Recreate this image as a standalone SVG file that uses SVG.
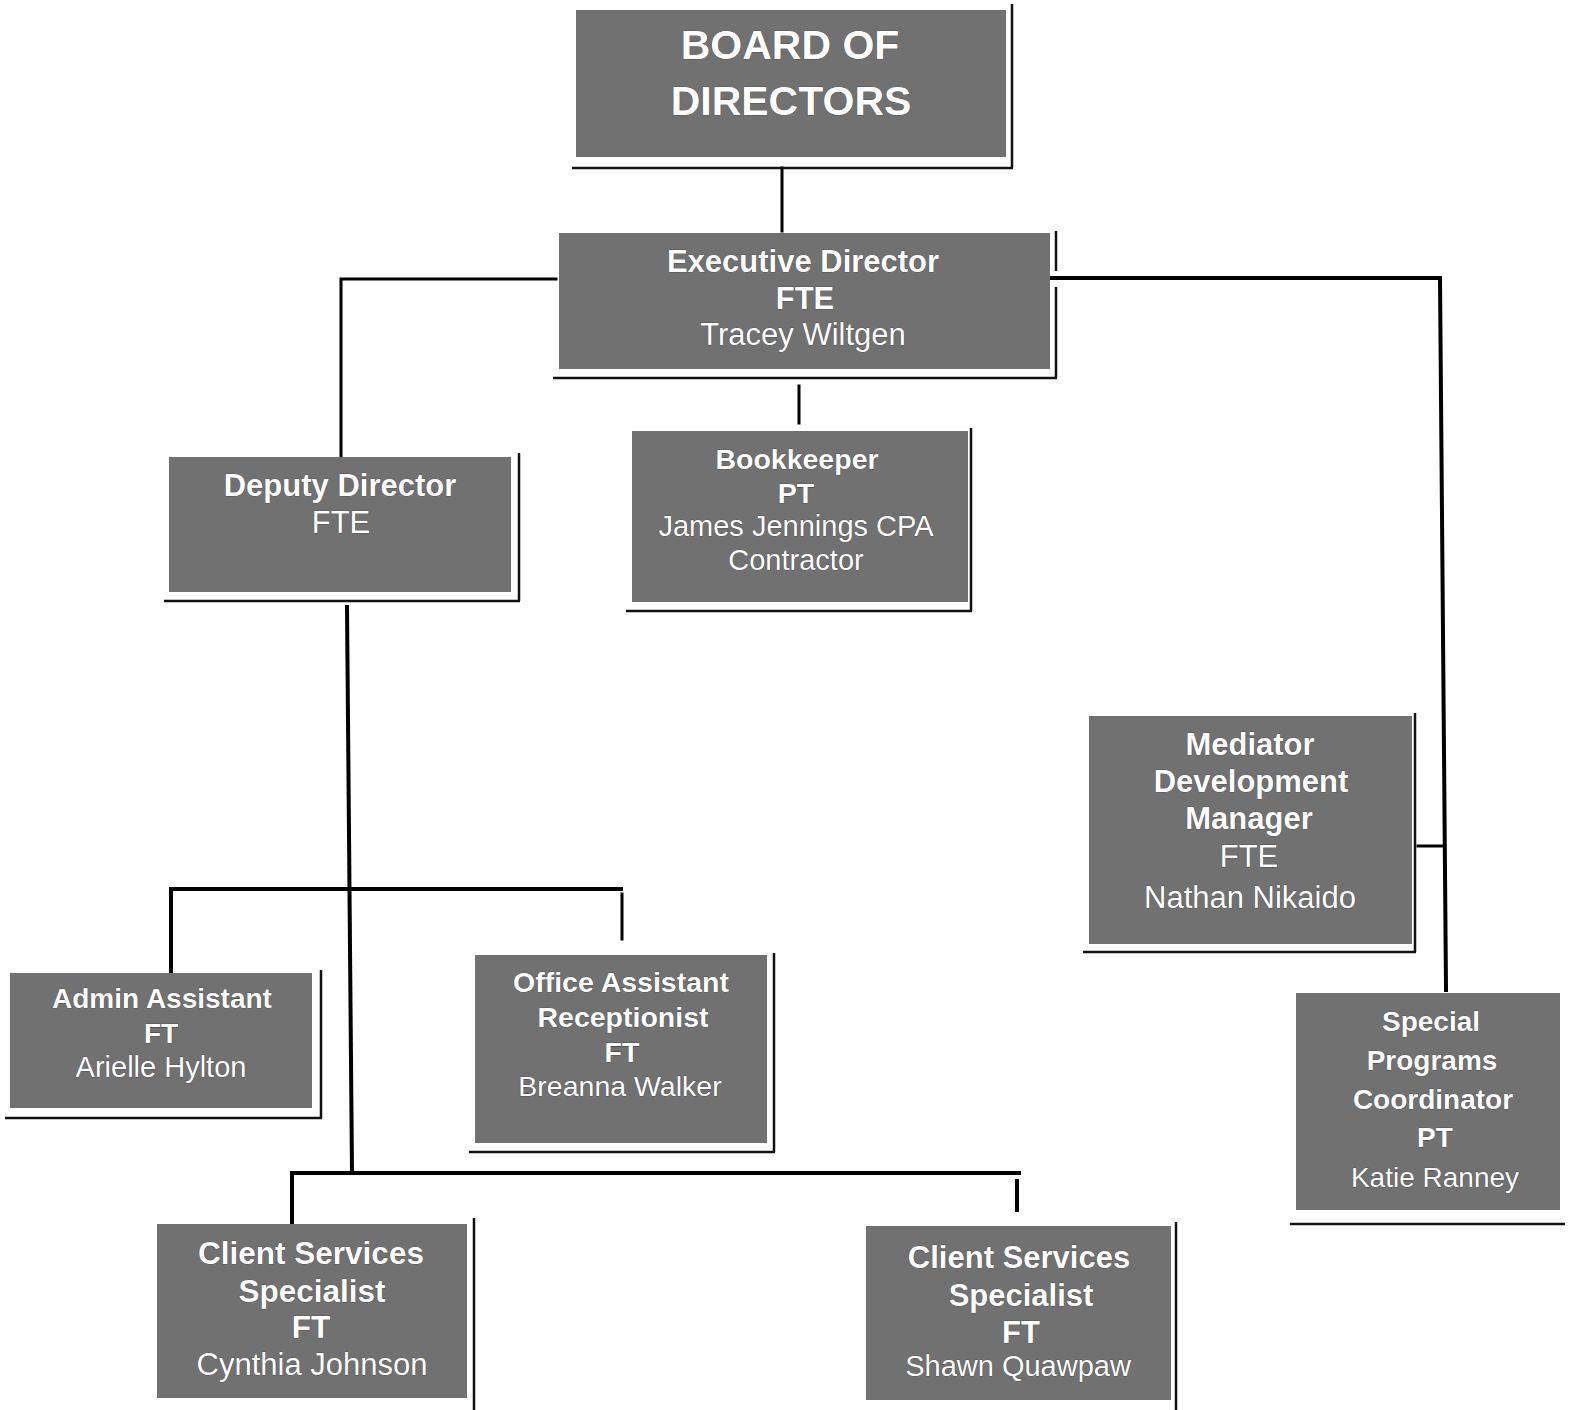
<svg xmlns="http://www.w3.org/2000/svg" width="1575" height="1410" viewBox="0 0 1575 1410">
<style>
.box{fill:#717171}
.sh{stroke:#111;stroke-width:2.5;fill:none}
.c{stroke:#000;fill:none;stroke-linecap:square}
text{font-family:"Liberation Sans",Arial,sans-serif;fill:#fff;text-anchor:middle;stroke:#333;stroke-width:0.6;paint-order:stroke}
.b{font-weight:bold}
</style>
<rect width="1575" height="1410" fill="#fff"/>
<g id="connectors">
<path class="c" stroke-width="3" d="M782 168V231"/>
<path class="c" stroke-width="3" d="M556 279H341V456"/>
<path class="c" stroke-width="4" d="M1052 278H1440L1446 990"/>
<path class="c" stroke-width="3" d="M1418 846H1442"/>
<path class="c" stroke-width="3" d="M799 386V423"/>
<path class="c" stroke-width="4" d="M347 607L352 1173"/>
<path class="c" stroke-width="4" d="M171 972V889H621"/>
<path class="c" stroke-width="3" d="M622 894V939"/>
<path class="c" stroke-width="4" d="M292 1222V1173H1019"/>
<path class="c" stroke-width="4" d="M1017 1181V1210"/>
</g>
<g id="board">
<rect class="box" x="576" y="10" width="430" height="147"/>
<path class="sh" d="M572 168H1013M1012 4V168"/>
<text class="b" x="790" y="59" font-size="41">BOARD OF</text>
<text class="b" x="791" y="115" font-size="41">DIRECTORS</text>
</g>
<g id="exec">
<rect class="box" x="559" y="233" width="491" height="136"/>
<path class="sh" d="M553 378H1057M1056 231V271M1056 287V378"/>
<text class="b" x="803" y="272" font-size="31">Executive Director</text>
<text class="b" x="805" y="309" font-size="31">FTE</text>
<text x="803" y="345" font-size="31">Tracey Wiltgen</text>
</g>
<g id="deputy">
<rect class="box" x="169" y="457" width="342" height="135"/>
<path class="sh" d="M164 601H520M519 453V601"/>
<text class="b" x="340" y="496" font-size="31">Deputy Director</text>
<text x="341" y="533" font-size="31">FTE</text>
</g>
<g id="bookkeeper">
<rect class="box" x="632" y="431" width="336" height="171"/>
<path class="sh" d="M626 611H972M971 428V611"/>
<text class="b" x="797" y="469" font-size="28.5">Bookkeeper</text>
<text class="b" x="796" y="503" font-size="28.5">PT</text>
<text x="796" y="536" font-size="29">James Jennings CPA</text>
<text x="796" y="570" font-size="29">Contractor</text>
</g>
<g id="mediator">
<rect class="box" x="1089" y="716" width="323" height="228"/>
<path class="sh" d="M1083 952H1416M1415 713V952"/>
<text class="b" x="1250" y="755" font-size="31">Mediator</text>
<text class="b" x="1251" y="792" font-size="31">Development</text>
<text class="b" x="1249" y="829" font-size="31">Manager</text>
<text x="1249" y="867" font-size="31">FTE</text>
<text x="1250" y="908" font-size="31">Nathan Nikaido</text>
</g>
<g id="admin">
<rect class="box" x="10" y="973" width="302" height="135"/>
<path class="sh" d="M5 1118H322M321 970V1118"/>
<text class="b" x="162" y="1008" font-size="28">Admin Assistant</text>
<text class="b" x="161" y="1043" font-size="28">FT</text>
<text x="161" y="1077" font-size="29">Arielle Hylton</text>
</g>
<g id="office">
<rect class="box" x="475" y="955" width="292" height="188"/>
<path class="sh" d="M469 1152H775M774 953V1152"/>
<text class="b" x="621" y="992" font-size="28.5">Office Assistant</text>
<text class="b" x="623" y="1027" font-size="28.5">Receptionist</text>
<text class="b" x="622" y="1062" font-size="28.5">FT</text>
<text x="620" y="1096" font-size="28.5">Breanna Walker</text>
</g>
<g id="client1">
<rect class="box" x="157" y="1224" width="310" height="174"/>
<path class="sh" d="M474 1218V1410"/>
<text class="b" x="311" y="1264" font-size="31.5">Client Services</text>
<text class="b" x="312" y="1302" font-size="31.5">Specialist</text>
<text class="b" x="311" y="1338" font-size="31.5">FT</text>
<text x="312" y="1375" font-size="31">Cynthia Johnson</text>
</g>
<g id="client2">
<rect class="box" x="866" y="1226" width="305" height="174"/>
<path class="sh" d="M1176 1222V1410"/>
<text class="b" x="1019" y="1268" font-size="31">Client Services</text>
<text class="b" x="1021" y="1306" font-size="31">Specialist</text>
<text class="b" x="1021" y="1343" font-size="31">FT</text>
<text x="1018" y="1376" font-size="29">Shawn Quawpaw</text>
</g>
<g id="special">
<rect class="box" x="1296" y="993" width="264" height="217"/>
<path class="sh" d="M1290 1224H1565"/>
<text class="b" x="1431" y="1031" font-size="28">Special</text>
<text class="b" x="1432" y="1070" font-size="28">Programs</text>
<text class="b" x="1433" y="1109" font-size="28">Coordinator</text>
<text class="b" x="1435" y="1147" font-size="28">PT</text>
<text x="1435" y="1187" font-size="28">Katie Ranney</text>
</g>
</svg>
